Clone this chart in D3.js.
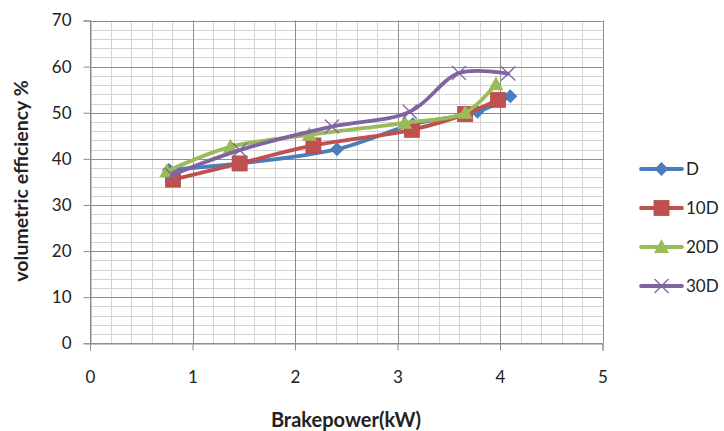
<!DOCTYPE html>
<html>
<head>
<meta charset="utf-8">
<script src="https://cdn.jsdelivr.net/npm/d3@7"></script>
<style>
  html, body { margin: 0; padding: 0; background: #fff; }
  svg text { font-family: Lato, "Open Sans", sans-serif; fill: #222; }
</style>
</head>
<body>
<svg id="chart" width="724" height="431"></svg>
<script>
// Brake power (kW) and volumetric efficiency (%) for each blend
const seriesNames = ["D", "10D", "20D", "30D"];
const seriesColors = ["#4A7EBB", "#C0504D", "#9BBB59", "#8064A2"];
const seriesSymbols = ["diamond", "square", "triangle", "cross"];

const xD   = [0.77, 1.46, 2.41, 3.15, 3.78, 4.10];
const yD   = [37.6, 39.0, 42.1, 47.5, 50.2, 53.6];
const x10D = [0.81, 1.46, 2.18, 3.14, 3.66, 3.98];
const y10D = [35.5, 39.0, 42.9, 46.3, 49.7, 52.8];
const x20D = [0.75, 1.37, 2.14, 3.07, 3.66, 3.96];
const y20D = [37.3, 42.6, 45.2, 47.8, 50.0, 56.2];
const x30D = [0.80, 1.46, 2.36, 3.12, 3.60, 4.08];
const y30D = [36.5, 41.9, 47.0, 50.2, 58.6, 58.5];

const xTicks = [0, 1, 2, 3, 4, 5];
const yTicks = [0, 10, 20, 30, 40, 50, 60, 70];

const xTitle = "Brakepower(kW)";
const yTitle = "volumetric efficiency %";

const seriesData = [[xD, yD], [x10D, y10D], [x20D, y20D], [x30D, y30D]]
  .map(([xs, ys], i) => ({
    name: seriesNames[i],
    color: seriesColors[i],
    symbol: seriesSymbols[i],
    points: xs.map((x, j) => ({ x, y: ys[j] }))
  }));

const svg = d3.select("#chart");
const plot = { left: 90, right: 602.5, top: 20.5, bottom: 343.3 };

const x = d3.scaleLinear().domain([0, 5]).range([plot.left, plot.right]);
const y = d3.scaleLinear().domain([0, 70]).range([plot.bottom, plot.top]);

// Minor grid
const grid = svg.append("g");
grid.selectAll("line.vminor")
  .data(d3.range(0, 5.0001, 0.2))
  .join("line")
  .attr("x1", d => Math.round(x(d)) + 0.5).attr("x2", d => Math.round(x(d)) + 0.5)
  .attr("y1", plot.top).attr("y2", plot.bottom)
  .attr("stroke", "#d4d4d4").attr("stroke-width", 1);
grid.selectAll("line.hminor")
  .data(d3.range(0, 70.0001, 2))
  .join("line")
  .attr("x1", plot.left).attr("x2", plot.right)
  .attr("y1", d => Math.round(y(d)) + 0.5).attr("y2", d => Math.round(y(d)) + 0.5)
  .attr("stroke", "#d4d4d4").attr("stroke-width", 1);

// Major grid
grid.selectAll("line.vmajor")
  .data(xTicks)
  .join("line")
  .attr("x1", d => Math.round(x(d)) + 0.5).attr("x2", d => Math.round(x(d)) + 0.5)
  .attr("y1", plot.top).attr("y2", plot.bottom)
  .attr("stroke", "#8c8c8c").attr("stroke-width", 1);
grid.selectAll("line.hmajor")
  .data(yTicks)
  .join("line")
  .attr("x1", plot.left).attr("x2", plot.right)
  .attr("y1", d => Math.round(y(d)) + 0.5).attr("y2", d => Math.round(y(d)) + 0.5)
  .attr("stroke", "#8c8c8c").attr("stroke-width", 1);

// Axes
const xAxis = d3.axisBottom(x).tickValues(xTicks).tickSize(7).tickPadding(20).tickFormat(d3.format("d"));
const yAxis = d3.axisLeft(y).tickValues(yTicks).tickSize(7).tickPadding(12).tickFormat(d3.format("d"));

const gx = svg.append("g").attr("transform", `translate(0,${Math.round(plot.bottom) + 0.5})`).call(xAxis);
const gy = svg.append("g").attr("transform", `translate(${Math.round(plot.left) + 0.5},0)`).call(yAxis);
[gx, gy].forEach(g => {
  g.select(".domain").attr("stroke", "#8c8c8c");
  g.selectAll(".tick line").attr("stroke", "#8c8c8c");
  g.selectAll(".tick text").attr("font-size", 17).attr("fill", "#222")
    .style("font-family", "Lato, 'Open Sans', sans-serif");
});

// Axis titles
svg.append("text")
  .attr("x", 346).attr("y", 427)
  .attr("text-anchor", "middle")
  .attr("font-size", 20).attr("font-weight", "bold")
  .text(xTitle);
svg.append("text")
  .attr("transform", `translate(28,181) rotate(-90)`)
  .attr("text-anchor", "middle")
  .attr("font-size", 19.5).attr("font-weight", "bold")
  .text(yTitle);

// Markers
function drawMarker(g, symbol, color, cx, cy) {
  if (symbol === "diamond") {
    g.append("path").attr("d", `M${cx},${cy - 7}L${cx + 7},${cy}L${cx},${cy + 7}L${cx - 7},${cy}Z`).attr("fill", color);
  } else if (symbol === "square") {
    g.append("rect").attr("x", cx - 7.5).attr("y", cy - 7.5).attr("width", 15).attr("height", 15)
      .attr("fill", color).attr("stroke", "#b34a47").attr("stroke-width", 0.8);
  } else if (symbol === "triangle") {
    g.append("path").attr("d", `M${cx},${cy - 8}L${cx + 7.5},${cy + 6}L${cx - 7.5},${cy + 6}Z`).attr("fill", color);
  } else {
    g.append("path").attr("d", `M${cx - 7},${cy - 7}L${cx + 7},${cy + 7}M${cx - 7},${cy + 7}L${cx + 7},${cy - 7}`)
      .attr("stroke", color).attr("stroke-width", 1.3).attr("fill", "none");
  }
}

// Smoothed series lines
const line = d3.line().x(d => x(d.x)).y(d => y(d.y)).curve(d3.curveCatmullRom.alpha(0.5));

seriesData.forEach(s => {
  const g = svg.append("g");
  g.append("path").datum(s.points)
    .attr("d", line)
    .attr("fill", "none")
    .attr("stroke", s.color)
    .attr("stroke-width", 3.8)
    .attr("stroke-linejoin", "round")
    .attr("stroke-linecap", "round");
  s.points.forEach(p => drawMarker(g, s.symbol, s.color, x(p.x), y(p.y)));
});

// Legend
const legend = svg.append("g");
const legendY = [169, 208, 247, 286];
seriesData.forEach((s, i) => {
  const gy0 = legendY[i];
  const g = legend.append("g");
  g.append("line").attr("x1", 641).attr("x2", 682).attr("y1", gy0).attr("y2", gy0)
    .attr("stroke", s.color).attr("stroke-width", 3.8).attr("stroke-linecap", "round");
  drawMarker(g, s.symbol, s.color, 661.5, gy0);
  g.append("text").attr("x", 686).attr("y", gy0 + 6)
    .attr("font-size", 17).text(s.name);
});
</script>
</body>
</html>
